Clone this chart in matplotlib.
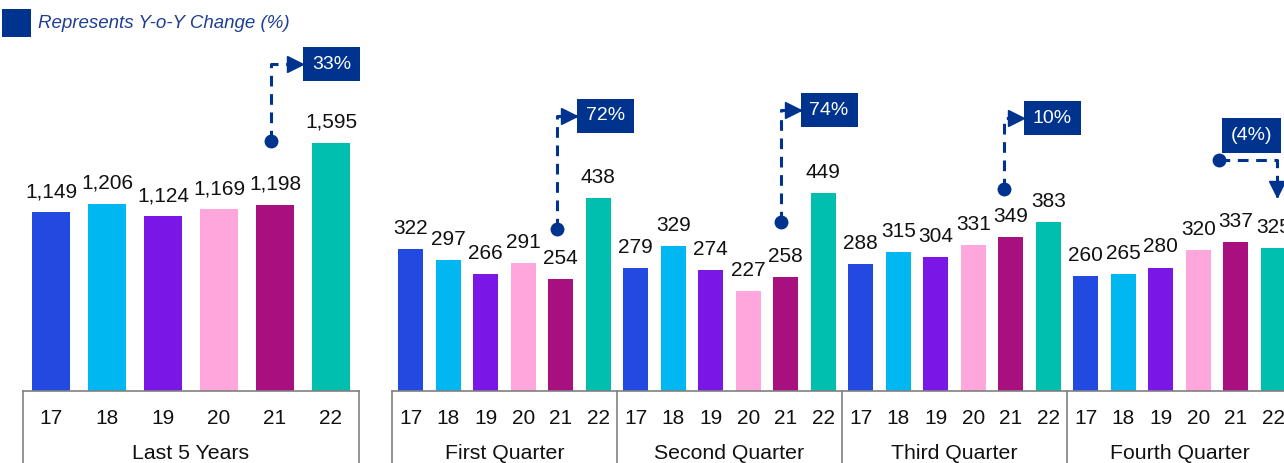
import matplotlib
matplotlib.use("Agg")
import matplotlib.pyplot as plt
from matplotlib.patches import Rectangle
from matplotlib.transforms import ScaledTranslation

plt.rcParams['font.family'] = ['Liberation Sans', 'DejaVu Sans']

# ---------------- data ----------------
years = ["17", "18", "19", "20", "21", "22"]
annual_values = [1149, 1206, 1124, 1169, 1198, 1595]
quarter_names = ["First Quarter", "Second Quarter", "Third Quarter", "Fourth Quarter"]
q1_values = [322, 297, 266, 291, 254, 438]
q2_values = [279, 329, 274, 227, 258, 449]
q3_values = [288, 315, 304, 331, 349, 383]
q4_values = [260, 265, 280, 320, 337, 325]
annual_label = "Last 5 Years"
annual_yoy = "33%"
quarter_yoy = ["72%", "74%", "10%", "(4%)"]
legend_text = "Represents Y-o-Y Change (%)"

colors = ["#2249E0", "#00B7F1", "#7A17E6", "#FFA6DC", "#A8107F", "#00BFAE"]
navy = "#00338D"
gray = "#808080"

W, H = 1284, 463
fig = plt.figure(figsize=(W / 100, H / 100), dpi=100)


def fx(px):
    return px / W


def fy(py):
    return 1 - py / H


base_px = 391
axL = fig.add_axes([fx(23), fy(base_px), fx(336), base_px / H])
axR = fig.add_axes([fx(392), fy(base_px), fx(900), base_px / H])

for ax in (axL, axR):
    for s in ("left", "right", "top"):
        ax.spines[s].set_visible(False)
    ax.spines["bottom"].set_color(gray)
    ax.spines["bottom"].set_linewidth(1.2)
    ax.set_yticks([])
    ax.tick_params(axis="x", length=0, pad=13, labelsize=15, labelcolor="#111111")
    ax.patch.set_alpha(0)

LBL = 15


def value_labels(ax, xs, vals):
    for x, v in zip(xs, vals):
        ax.annotate(f"{v:,}", (x, v), xytext=(0, 8), textcoords="offset points",
                    ha="center", va="bottom", fontsize=LBL, color="#111111")


# left panel
xl = list(range(len(annual_values)))
axL.bar(xl, annual_values, width=0.68, color=colors)
value_labels(axL, xl, annual_values)
axL.set_xlim(-0.5, 5.5)
axL.set_ylim(0, 2515)
axL.set_xticks(xl, years)

# right panel
all_q = [q1_values, q2_values, q3_values, q4_values]
xr = list(range(24))
vals_r = [v for q in all_q for v in q]
axR.bar(xr, vals_r, width=0.67, color=colors * 4)
value_labels(axR, xr, vals_r)
axR.set_xlim(-0.5, 23.5)
axR.set_ylim(0, 887)
axR.set_xticks(xr, years * 4)

# group boxes and labels
drop = -0.19
for ax, bounds, names in ((axL, [-0.5, 5.5], [annual_label]),
                          (axR, [-0.5, 5.5, 11.5, 17.5, 23.5], quarter_names)):
    tr = ax.get_xaxis_transform()
    for b in bounds:
        ax.plot([b, b], [0, drop], transform=tr, color=gray, lw=1.2, clip_on=False)
    for i, n in enumerate(names):
        c = (bounds[i] + bounds[i + 1]) / 2
        ax.text(c, -0.16, n, transform=tr, ha="center", va="center", fontsize=15.3,
                color="#111111")


# YoY annotations
def yoy(ax, dot, corner, tip, text, box_xy=None, direction="right"):
    xs = [dot[0], corner[0], tip[0]]
    ys = [dot[1], corner[1], tip[1]]
    ax.plot(xs, ys, color=navy, lw=2.2, dashes=(3.5, 2.5), solid_capstyle="butt",
            dash_capstyle="butt", zorder=5)
    ax.plot([dot[0]], [dot[1]], marker="o", ms=9, color=navy, zorder=6)
    ms = 11
    bbox = dict(boxstyle="square,pad=0.45", fc=navy, ec="none")
    if direction == "right":
        off = ScaledTranslation(-ms / 2 / 72, 0, fig.dpi_scale_trans)
        ax.plot([tip[0]], [tip[1]], marker=">", ms=ms, color=navy, mec=navy,
                transform=ax.transData + off, zorder=6)
        ax.annotate(text, xy=tip, xytext=(6.3, 0), textcoords="offset points",
                    ha="left", va="center", fontsize=14, color="white",
                    bbox=bbox, zorder=7)
    else:
        off = ScaledTranslation(0, ms / 2 / 72, fig.dpi_scale_trans)
        ax.plot([tip[0]], [tip[1]], marker="v", ms=ms, color=navy, mec=navy,
                transform=ax.transData + off, zorder=6)
        ax.text(box_xy[0], box_xy[1], text, ha="center", va="center", fontsize=14,
                color="white", bbox=bbox, zorder=7)


yoy(axL, (3.92, 1608), (3.92, 2103), (4.5, 2103), annual_yoy)
yoy(axR, (3.89, 367), (3.89, 624), (4.43, 624), quarter_yoy[0])
yoy(axR, (9.87, 383), (9.87, 637), (10.40, 637), quarter_yoy[1])
yoy(axR, (15.82, 458), (15.82, 619), (16.35, 619), quarter_yoy[2])
yoy(axR, (21.55, 524), (23.09, 524), (23.09, 440), quarter_yoy[3], box_xy=(22.43, 580),
    direction="down")

# legend
fig.add_artist(Rectangle((fx(2), fy(37)), fx(29), 28 / H, transform=fig.transFigure,
                         fc=navy, ec="none"))
fig.text(fx(38), fy(23), legend_text, ha="left", va="center", fontsize=13.5,
         style="italic", color="#1F3F95")

fig.savefig("out.png", dpi=100)
